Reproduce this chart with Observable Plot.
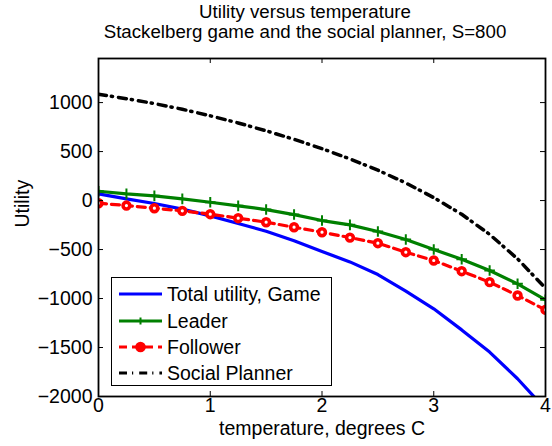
<!DOCTYPE html>
<html><head><meta charset="utf-8">
<script src="https://cdn.jsdelivr.net/npm/d3@7"></script>
<script src="https://cdn.jsdelivr.net/npm/@observablehq/plot@0.6"></script>
<style>
body{margin:0;background:#fff;font-family:"Liberation Sans",Arial,Helvetica,sans-serif;}
#wrap{position:relative;width:552px;height:446px;overflow:hidden;}
#title{position:absolute;left:0;top:2px;width:610px;text-align:center;font-size:18.7px;line-height:20px;color:#000;}
#chart{position:absolute;left:0;top:44px;}
#legend{position:absolute;left:111px;top:277px;width:221px;height:109px;box-sizing:border-box;border:1.3px solid #000;background:#fff;}
.row{position:absolute;left:0;height:26px;width:100%;}
.row svg{position:absolute;left:7px;top:0;}
.row span{position:absolute;left:55px;top:2px;font-size:19.5px;line-height:22px;white-space:nowrap;color:#000;}
</style></head>
<body>
<div id="wrap">
  <div id="title"></div>
  <div id="chart"></div>
  <div id="legend"></div>
</div>
<script>
const titleLines = ["Utility versus temperature", "Stackelberg game and the social planner, S=800"];
const xLabel = "temperature, degrees C";
const yLabel = "Utility";
const xTicks = [0, 1, 2, 3, 4];
const yTicks = [-2000, -1500, -1000, -500, 0, 500, 1000];

const temps = [0, 0.25, 0.5, 0.75, 1, 1.25, 1.5, 1.75, 2, 2.25, 2.5, 2.75, 3, 3.25, 3.5, 3.75, 4];
const totalGame = [68, 17, -30, -88, -156, -234, -313, -410, -520, -626, -755, -925, -1105, -1320, -1547, -1819, -2129];
const leader = [95, 68, 48, 17, -17, -54, -92, -143, -204, -248, -316, -398, -500, -599, -714, -850, -1013];
const follower = [-27, -51, -78, -105, -139, -180, -221, -272, -323, -378, -435, -527, -612, -721, -833, -969, -1116];
const socialPlanner = [1085, 1040, 990, 932, 865, 792, 712, 625, 530, 425, 310, 180, 30, -140, -345, -595, -895];

const seriesNames = ["Total utility, Game", "Leader", "Follower", "Social Planner"];

document.getElementById("title").innerHTML = titleLines.map(t => `<div>${t}</div>`).join("");

const W = 552, H = 402, mT = 14, mB = 50, mL = 98, mR = 7;
const plotW = W - mL - mR, plotH = H - mT - mB;
const tk = 5;
const fs = 19.5;

const rows = (vals) => temps.map((t, i) => ({t, v: vals[i]}));
const font = '"Liberation Sans", Arial, Helvetica, sans-serif';

const chart = Plot.plot({
  width: W, height: H,
  marginTop: mT, marginBottom: mB, marginLeft: mL, marginRight: mR,
  style: {fontFamily: font, fontSize: fs + "px", color: "black", background: "white"},
  x: {domain: [0, 4]},
  y: {domain: [-2000, 1450]},
  marks: [
    Plot.line(rows(totalGame), {x: "t", y: "v", stroke: "#0000ff", strokeWidth: 3.2, clip: true}),
    Plot.line(rows(leader), {x: "t", y: "v", stroke: "#008000", strokeWidth: 3.2, clip: true}),
    Plot.dot(rows(leader), {x: "t", y: "v", symbol: "plus", r: 3.5, stroke: "#008000", strokeWidth: 2, clip: true}),
    Plot.line(rows(follower), {x: "t", y: "v", stroke: "#ff0000", strokeWidth: 3.2, strokeDasharray: "8,5", clip: true}),
    Plot.dot(rows(follower), {x: "t", y: "v", r: 3.4, stroke: "#ff0000", fill: "white", strokeWidth: 3.6, clip: true}),
    Plot.line(rows(socialPlanner), {x: "t", y: "v", stroke: "black", strokeWidth: 3.5, strokeDasharray: "8,5,1.2,6", clip: true}),
    // inward ticks (MATLAB style box)
    Plot.tickX(xTicks, {x: d => d, insetTop: plotH - tk, stroke: "black", strokeWidth: 1}),
    Plot.tickX(xTicks, {x: d => d, insetBottom: plotH - tk, stroke: "black", strokeWidth: 1}),
    Plot.tickY(yTicks, {y: d => d, insetRight: plotW - tk, stroke: "black", strokeWidth: 1}),
    Plot.tickY(yTicks, {y: d => d, insetLeft: plotW - tk, stroke: "black", strokeWidth: 1}),
    Plot.frame({stroke: "black", strokeWidth: 1.8}),
    Plot.axisX({ticks: xTicks, anchor: "bottom", tickSize: 0, tickPadding: 2, tickFormat: d3.format("d"), label: null, fontSize: fs}),
    Plot.axisY({ticks: yTicks, anchor: "left", tickSize: 0, tickPadding: 6, tickFormat: d3.format("d"), label: null, fontSize: fs}),
    Plot.text([xLabel], {frameAnchor: "bottom", dy: 38, text: d => d, fontSize: fs}),
    Plot.text([yLabel], {frameAnchor: "left", dx: -76, rotate: -90, text: d => d, fontSize: fs})
  ]
});
document.getElementById("chart").appendChild(chart);

// legend
const legendStyles = [
  {stroke: "#0000ff", dash: null, marker: null},
  {stroke: "#008000", dash: null, marker: "plus"},
  {stroke: "#ff0000", dash: "8,5", marker: "circle"},
  {stroke: "#000000", dash: "8,5,1.2,6", marker: null}
];
const rowTops = [3, 30, 56, 82];
const leg = document.getElementById("legend");
seriesNames.forEach((name, i) => {
  const s = legendStyles[i];
  const row = document.createElement("div");
  row.className = "row";
  row.style.top = rowTops[i] + "px";
  let marker = "";
  if (s.marker === "plus") marker = `<path d="M21.5,9.5V16.5M18,13H25" stroke="${s.stroke}" stroke-width="2"/>`;
  if (s.marker === "circle") marker = `<circle cx="21.5" cy="13" r="5.3" fill="${s.stroke}"/>`;
  row.innerHTML = `<svg width="44" height="26"><line x1="0" x2="43" y1="13" y2="13" stroke="${s.stroke}" stroke-width="3.2" ${s.dash ? `stroke-dasharray="${s.dash}"` : ""}/>${marker}</svg><span>${name}</span>`;
  leg.appendChild(row);
});
</script>
</body></html>
